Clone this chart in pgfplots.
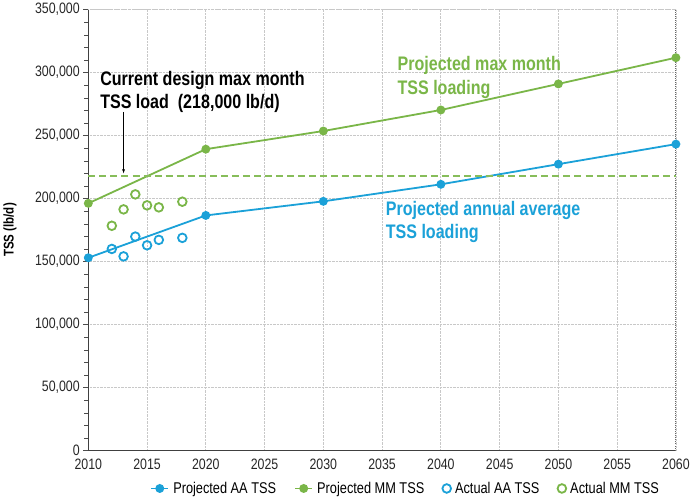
\documentclass[border=0pt]{standalone}
\usepackage{fontspec}
\setmainfont{Liberation Sans}[FakeStretch=0.82]
\usepackage{pgfplots}
\pgfplotsset{compat=1.18}
\definecolor{AAblue}{HTML}{1BA1D8}
\definecolor{MMgreen}{HTML}{7AB648}
\definecolor{GridGray}{HTML}{C8C8C8}

\begin{document}
\begin{tikzpicture}
\begin{axis}[
  scale only axis,
  width=585pt, height=439pt,
  xmin=2010, xmax=2060, ymin=0, ymax=350000,
  xtick={2010,2015,...,2060},
  xticklabels={2010,2015,2020,2025,2030,2035,2040,2045,2050,2055,2060},
  ytick={0,50000,...,350000},
  yticklabels={0,{50,000},{100,000},{150,000},{200,000},{250,000},{300,000},{350,000}},
  minor y tick num=4,
  scaled y ticks=false,
  tick label style={font=\fontsize{15}{17}\selectfont, text=black!85},
  axis line style={draw=none},
  grid=major,
  major grid style={draw=GridGray, densely dotted, line width=0.8pt},
  tick style={draw=black!70},
  xtick style={draw=none},
  ytick pos=left,
  major tick length=5pt, minor tick length=4pt,
  tick align=outside,
  ylabel={\bfseries TSS (lb/d)},
  ylabel style={font=\fontsize{14}{16}\selectfont, at={(-68pt,0.5)}},
  clip=false,
  legend style={at={(0.54,-0.062)}, anchor=north, draw=none, legend columns=4,
    font=\fontsize{15.5}{17}\selectfont,
    /tikz/every odd column/.append style={column sep=2pt},
    /tikz/every even column/.append style={column sep=16pt}},
  legend cell align=left,
]
% borders
\draw[black!75, line width=0.9pt] (axis cs:2010,350000) -- (axis cs:2010,0) -- (axis cs:2060,0);
\draw[black!60, densely dotted, line width=1pt] (axis cs:2060,0) -- (axis cs:2060,350000);
\draw[GridGray, densely dotted, line width=0.8pt] (axis cs:2010,350000) -- (axis cs:2060,350000);

\addplot[AAblue, line width=1.8pt, mark=*, mark size=3.5pt] coordinates {
  (2010,153000) (2020,186600) (2030,197800) (2040,211300) (2050,227300) (2060,243200)};
\addlegendentry{Projected AA TSS}
\addplot[MMgreen, line width=1.8pt, mark=*, mark size=3.5pt] coordinates {
  (2010,196200) (2020,239200) (2030,253600) (2040,270300) (2050,291000) (2060,311800)};
\addlegendentry{Projected MM TSS}
\addplot[AAblue, only marks, mark=o, mark size=4.3pt, line width=1.8pt] coordinates {
  (2012,160000) (2013,154100) (2014,169800) (2015,162900) (2016,167200) (2018,168800)};
\addlegendentry{Actual AA TSS}
\addplot[MMgreen, only marks, mark=o, mark size=4.3pt, line width=1.8pt] coordinates {
  (2012,178400) (2013,191400) (2014,203300) (2015,194600) (2016,193000) (2018,197500)};
\addlegendentry{Actual MM TSS}
% current design max month load
\addplot[color=MMgreen!90!white, solid, line width=1.6pt, dash pattern=on 7pt off 4pt] coordinates {
  (2010,218000) (2060,218000)};

\node[anchor=north west, align=left, inner sep=0pt, font=\bfseries\fontsize{19.5}{23}\selectfont, black]
  at (axis cs:2011,301000) {Current design max month\\TSS load~ (218,000 lb/d)};
\draw[-latex, black] (axis cs:2013,268700) -- (axis cs:2013,220000);
\node[anchor=north west, align=left, inner sep=0pt, font=\bfseries\fontsize{19.5}{24}\selectfont, text=MMgreen]
  at (axis cs:2036.3,313000) {Projected max month\\TSS loading};
\node[anchor=north west, align=left, inner sep=0pt, font=\bfseries\fontsize{19.5}{23}\selectfont, text=AAblue]
  at (axis cs:2035.3,198000) {Projected annual average\\TSS loading};
\end{axis}
\end{tikzpicture}
\end{document}
